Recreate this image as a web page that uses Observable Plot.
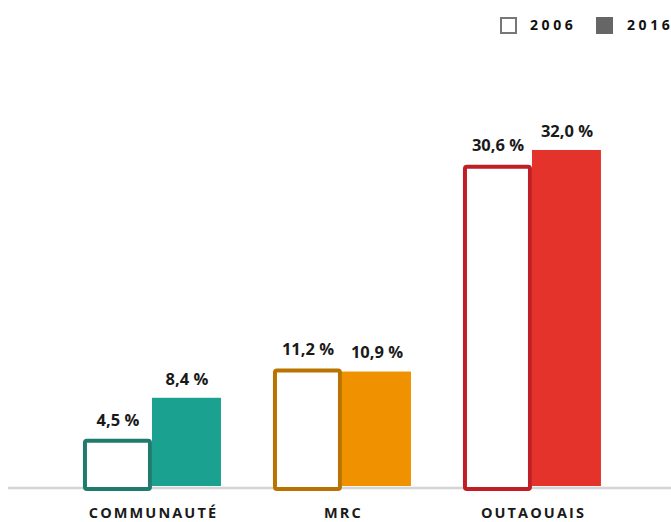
<!DOCTYPE html>
<html>
<head>
<meta charset="utf-8">
<script src="https://cdn.jsdelivr.net/npm/d3@7"></script>
<script src="https://cdn.jsdelivr.net/npm/@observablehq/plot@0.6"></script>
<style>
  html, body { margin: 0; padding: 0; background: #fff; }
  #wrap { width: 671px; height: 522px; overflow: hidden; font-family: "Open Sans", sans-serif; }
  #legend { position: relative; width: 671px; height: 50px; overflow: hidden; }
  #legend .box { position: absolute; top: 17px; width: 17px; height: 17px; box-sizing: border-box; }
  #legend .lbl { position: absolute; top: 15px; font-weight: 700; font-size: 14px; letter-spacing: 3.6px; color: #111; line-height: 20px; white-space: nowrap; }
</style>
</head>
<body>
<div id="wrap">
  <div id="legend"></div>
  <div id="chart"></div>
</div>
<script>
const categories = ["COMMUNAUTÉ", "MRC", "OUTAOUAIS"];
const values2006 = [4.5, 11.2, 30.6];
const values2016 = [8.4, 10.9, 32.0];
const fillColors = ["#1ba190", "#f09200", "#e3332a"];
const strokeColors = ["#1f7b6c", "#b97300", "#bf1f24"];
const legendYears = ["2006", "2016"];

const data = categories.map((c, i) => ({cat: c, v2006: values2006[i], v2016: values2016[i], fill: fillColors[i], stroke: strokeColors[i]}));
const fmt = v => v.toFixed(1).replace(".", ",") + "\u00a0%";

// legend
const legend = document.getElementById("legend");
legend.innerHTML = `
  <div class="box" style="left:500px;border:2.5px solid #777;background:#fff"></div>
  <div class="lbl" style="left:530px">${legendYears[0]}</div>
  <div class="box" style="left:596px;background:#666"></div>
  <div class="lbl" style="left:627px">${legendYears[1]}</div>`;

const half = 69;
const chart = Plot.plot({
  width: 671,
  height: 472,
  marginLeft: 8,
  marginRight: 0,
  marginTop: 0,
  marginBottom: 36,
  style: {fontFamily: "'Open Sans', sans-serif", background: "#fff", overflow: "visible"},
  x: {domain: categories, paddingInner: 0.2737, paddingOuter: 0.3816, align: 0.517, round: false, axis: null},
  y: {domain: [0, 41.52], axis: null},
  marks: [
    Plot.ruleY([0], {stroke: "#d4d4d4", strokeWidth: 2.5, dy: 1.5}),
    Plot.barY(data, {x: "cat", y: "v2016", fill: "fill", insetLeft: half}),
    Plot.barY(data, {x: "cat", y: "v2006", fill: "#fff", stroke: "stroke", strokeWidth: 4, rx: 2,
      insetLeft: 2, insetRight: half + 2, insetTop: 2, insetBottom: -3}),
    Plot.text(data, {x: "cat", y: "v2006", text: d => fmt(d.v2006), dx: -34.5, dy: -19,
      fontSize: 16.5, fontWeight: 700, fill: "#1a1a1a"}),
    Plot.text(data, {x: "cat", y: "v2016", text: d => fmt(d.v2016), dx: 34.5, dy: -19,
      fontSize: 16.5, fontWeight: 700, fill: "#1a1a1a"}),
    Plot.text(data, {x: "cat", y: () => 0, text: "cat", dy: 27, fontSize: 14.5, fontWeight: 700, fill: "#1a1a1a"})
  ]
});
document.getElementById("chart").appendChild(chart);
const textGroups = chart.querySelectorAll('g[aria-label="text"]');
const catGroup = textGroups[textGroups.length - 1];
catGroup.setAttribute("letter-spacing", "2.1px");
catGroup.querySelectorAll("text").forEach(t => t.setAttribute("dx", "1"));
</script>
</body>
</html>
